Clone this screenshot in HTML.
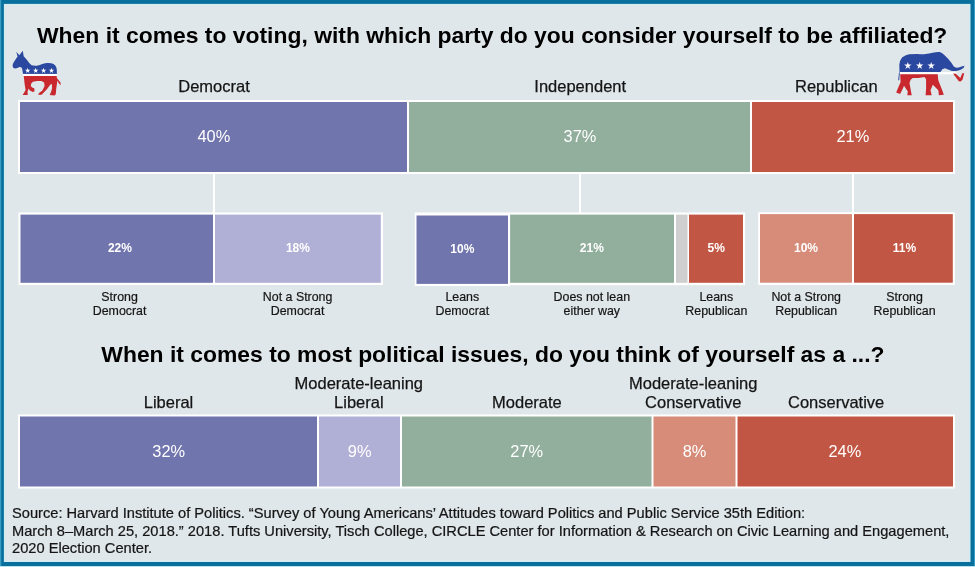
<!DOCTYPE html>
<html><head><meta charset="utf-8">
<style>
html,body{margin:0;padding:0;}
body{width:975px;height:567px;overflow:hidden;background:#e0e7ea;font-family:"Liberation Sans",sans-serif;}
svg{position:absolute;left:0;top:0;display:block;will-change:transform;}
</style></head><body>
<svg width="975" height="567" viewBox="0 0 975 567" font-family="Liberation Sans, sans-serif">
<rect x="0" y="0" width="975" height="567" fill="#09709e"/>
<rect x="3.9" y="3.9" width="966.6" height="558.1" fill="#cfeef4"/>
<rect x="5" y="5" width="964.4" height="556" fill="#e0e7ea"/>
<rect x="0" y="0" width="1.2" height="567" fill="#3a9ec2"/>
<rect x="974" y="0" width="1" height="567" fill="#3a9ec2"/>
<rect x="0" y="566" width="975" height="1" fill="#b8e2ee"/>
<text class="t" transform="translate(37,43.3) scale(1.041,1)" x="0" y="0" font-size="22" fill="#000" font-weight="bold">When it comes to voting, with which party do you consider yourself to be affiliated?</text>
<text class="t" transform="translate(214,92.3) scale(1.0,1)" x="0" y="0" font-size="16.5" fill="#151515" text-anchor="middle" stroke="#151515" stroke-width="0.25">Democrat</text>
<text class="t" transform="translate(580.2,92.3) scale(1.0,1)" x="0" y="0" font-size="16.5" fill="#151515" text-anchor="middle" stroke="#151515" stroke-width="0.25">Independent</text>
<text class="t" transform="translate(836.3,92.3) scale(1.0,1)" x="0" y="0" font-size="16.5" fill="#151515" text-anchor="middle" stroke="#151515" stroke-width="0.25">Republican</text>
<rect x="18" y="100" width="937" height="74" fill="#fff"/>
<rect x="20" y="102" width="387" height="70" fill="#7175ad"/>
<rect x="409" y="102" width="341" height="70" fill="#92ae9c"/>
<rect x="752" y="102" width="201" height="70" fill="#c25644"/>
<text class="t" transform="translate(213.8,142) scale(1.0,1)" x="0" y="0" font-size="16.4" fill="#fff" text-anchor="middle">40%</text>
<text class="t" transform="translate(580,142) scale(1.0,1)" x="0" y="0" font-size="16.4" fill="#fff" text-anchor="middle">37%</text>
<text class="t" transform="translate(852.8,142) scale(1.0,1)" x="0" y="0" font-size="16.4" fill="#fff" text-anchor="middle">21%</text>
<rect x="213" y="174" width="2" height="40" fill="#fff"/>
<rect x="579" y="174" width="2" height="40" fill="#fff"/>
<rect x="852" y="174" width="2" height="40" fill="#fff"/>
<rect x="18.5" y="212.5" width="364.5" height="72.5" fill="#fff"/>
<rect x="20.5" y="214.6" width="192.5" height="68.2" fill="#7175ad"/>
<rect x="215" y="214.6" width="165.8" height="68.2" fill="#b0afd5"/>
<rect x="414.9" y="212.5" width="330.1" height="72.7" fill="#fff"/>
<rect x="414.9" y="213.4" width="95.1" height="72.6" fill="#fff"/>
<rect x="416.5" y="215.5" width="91.5" height="68.4" fill="#7175ad"/>
<rect x="510.1" y="214.6" width="163.9" height="68.2" fill="#92ae9c"/>
<rect x="676" y="214.6" width="11.5" height="68.2" fill="#cfcfd0"/>
<rect x="689" y="214.6" width="54" height="68.2" fill="#c25644"/>
<rect x="758.2" y="212.3" width="196.7" height="72.7" fill="#fff"/>
<rect x="760" y="214.1" width="92" height="68.6" fill="#d68c79"/>
<rect x="854" y="214.1" width="98.8" height="68.6" fill="#c25644"/>
<text class="t" transform="translate(119.9,252.2) scale(1.0,1)" x="0" y="0" font-size="12" fill="#fff" text-anchor="middle" font-weight="bold">22%</text>
<text class="t" transform="translate(297.9,252.2) scale(1.0,1)" x="0" y="0" font-size="12" fill="#fff" text-anchor="middle" font-weight="bold">18%</text>
<text class="t" transform="translate(462.3,252.9) scale(1.0,1)" x="0" y="0" font-size="12" fill="#fff" text-anchor="middle" font-weight="bold">10%</text>
<text class="t" transform="translate(591.8,252.2) scale(1.0,1)" x="0" y="0" font-size="12" fill="#fff" text-anchor="middle" font-weight="bold">21%</text>
<text class="t" transform="translate(716.2,252.2) scale(1.0,1)" x="0" y="0" font-size="12" fill="#fff" text-anchor="middle" font-weight="bold">5%</text>
<text class="t" transform="translate(806,252.2) scale(1.0,1)" x="0" y="0" font-size="12" fill="#fff" text-anchor="middle" font-weight="bold">10%</text>
<text class="t" transform="translate(904.5,252.2) scale(1.0,1)" x="0" y="0" font-size="12" fill="#fff" text-anchor="middle" font-weight="bold">11%</text>
<text class="t" transform="translate(119.6,300.6) scale(1.0,1)" x="0" y="0" font-size="12.4" fill="#151515" text-anchor="middle" stroke="#151515" stroke-width="0.2">Strong</text>
<text class="t" transform="translate(119.6,314.9) scale(1.0,1)" x="0" y="0" font-size="12.4" fill="#151515" text-anchor="middle" stroke="#151515" stroke-width="0.2">Democrat</text>
<text class="t" transform="translate(297.6,300.6) scale(1.0,1)" x="0" y="0" font-size="12.4" fill="#151515" text-anchor="middle" stroke="#151515" stroke-width="0.2">Not a Strong</text>
<text class="t" transform="translate(297.6,314.9) scale(1.0,1)" x="0" y="0" font-size="12.4" fill="#151515" text-anchor="middle" stroke="#151515" stroke-width="0.2">Democrat</text>
<text class="t" transform="translate(462.3,300.6) scale(1.0,1)" x="0" y="0" font-size="12.4" fill="#151515" text-anchor="middle" stroke="#151515" stroke-width="0.2">Leans</text>
<text class="t" transform="translate(462.3,314.9) scale(1.0,1)" x="0" y="0" font-size="12.4" fill="#151515" text-anchor="middle" stroke="#151515" stroke-width="0.2">Democrat</text>
<text class="t" transform="translate(591.8,300.6) scale(1.0,1)" x="0" y="0" font-size="12.4" fill="#151515" text-anchor="middle" stroke="#151515" stroke-width="0.2">Does not lean</text>
<text class="t" transform="translate(591.8,314.9) scale(1.0,1)" x="0" y="0" font-size="12.4" fill="#151515" text-anchor="middle" stroke="#151515" stroke-width="0.2">either way</text>
<text class="t" transform="translate(716.3,300.6) scale(1.0,1)" x="0" y="0" font-size="12.4" fill="#151515" text-anchor="middle" stroke="#151515" stroke-width="0.2">Leans</text>
<text class="t" transform="translate(716.3,314.9) scale(1.0,1)" x="0" y="0" font-size="12.4" fill="#151515" text-anchor="middle" stroke="#151515" stroke-width="0.2">Republican</text>
<text class="t" transform="translate(806.2,300.6) scale(1.0,1)" x="0" y="0" font-size="12.4" fill="#151515" text-anchor="middle" stroke="#151515" stroke-width="0.2">Not a Strong</text>
<text class="t" transform="translate(806.2,314.9) scale(1.0,1)" x="0" y="0" font-size="12.4" fill="#151515" text-anchor="middle" stroke="#151515" stroke-width="0.2">Republican</text>
<text class="t" transform="translate(904.6,300.6) scale(1.0,1)" x="0" y="0" font-size="12.4" fill="#151515" text-anchor="middle" stroke="#151515" stroke-width="0.2">Strong</text>
<text class="t" transform="translate(904.6,314.9) scale(1.0,1)" x="0" y="0" font-size="12.4" fill="#151515" text-anchor="middle" stroke="#151515" stroke-width="0.2">Republican</text>
<text class="t" transform="translate(101.3,362.4) scale(1.041,1)" x="0" y="0" font-size="22" fill="#000" font-weight="bold">When it comes to most political issues, do you think of yourself as a ...?</text>
<text class="t" transform="translate(168.5,407.5) scale(1.0,1)" x="0" y="0" font-size="16.5" fill="#151515" text-anchor="middle" stroke="#151515" stroke-width="0.25">Liberal</text>
<text class="t" transform="translate(358.8,388.5) scale(1.0,1)" x="0" y="0" font-size="16.5" fill="#151515" text-anchor="middle" stroke="#151515" stroke-width="0.25">Moderate-leaning</text>
<text class="t" transform="translate(358.8,407.5) scale(1.0,1)" x="0" y="0" font-size="16.5" fill="#151515" text-anchor="middle" stroke="#151515" stroke-width="0.25">Liberal</text>
<text class="t" transform="translate(526.9,407.5) scale(1.0,1)" x="0" y="0" font-size="16.5" fill="#151515" text-anchor="middle" stroke="#151515" stroke-width="0.25">Moderate</text>
<text class="t" transform="translate(693.2,388.5) scale(1.0,1)" x="0" y="0" font-size="16.5" fill="#151515" text-anchor="middle" stroke="#151515" stroke-width="0.25">Moderate-leaning</text>
<text class="t" transform="translate(693.2,407.5) scale(1.0,1)" x="0" y="0" font-size="16.5" fill="#151515" text-anchor="middle" stroke="#151515" stroke-width="0.25">Conservative</text>
<text class="t" transform="translate(836.1,407.5) scale(1.0,1)" x="0" y="0" font-size="16.5" fill="#151515" text-anchor="middle" stroke="#151515" stroke-width="0.25">Conservative</text>
<rect x="18" y="414.5" width="937" height="74" fill="#fff"/>
<rect x="20" y="416.5" width="297" height="70" fill="#7175ad"/>
<rect x="319" y="416.5" width="81" height="70" fill="#b0afd5"/>
<rect x="402" y="416.5" width="249.5" height="70" fill="#92ae9c"/>
<rect x="653.5" y="416.5" width="82" height="70" fill="#d68c79"/>
<rect x="737.5" y="416.5" width="215.5" height="70" fill="#c25644"/>
<text class="t" transform="translate(168.7,456.7) scale(1.0,1)" x="0" y="0" font-size="16.4" fill="#fff" text-anchor="middle">32%</text>
<text class="t" transform="translate(359.7,456.7) scale(1.0,1)" x="0" y="0" font-size="16.4" fill="#fff" text-anchor="middle">9%</text>
<text class="t" transform="translate(526.7,456.7) scale(1.0,1)" x="0" y="0" font-size="16.4" fill="#fff" text-anchor="middle">27%</text>
<text class="t" transform="translate(694.5,456.7) scale(1.0,1)" x="0" y="0" font-size="16.4" fill="#fff" text-anchor="middle">8%</text>
<text class="t" transform="translate(844.9,456.7) scale(1.0,1)" x="0" y="0" font-size="16.4" fill="#fff" text-anchor="middle">24%</text>
<text class="t" transform="translate(12.0,518.1) scale(1.018,1)" x="0" y="0" font-size="14.4" fill="#151515" stroke="#151515" stroke-width="0.22">Source: Harvard Institute of Politics. “Survey of Young Americans’ Attitudes toward Politics and Public Service 35th Edition:</text>
<text class="t" transform="translate(12.0,535.5) scale(1.018,1)" x="0" y="0" font-size="14.4" fill="#151515" stroke="#151515" stroke-width="0.22">March 8–March 25, 2018.” 2018. Tufts University, Tisch College, CIRCLE Center for Information &amp; Research on Civic Learning and Engagement,</text>
<text class="t" transform="translate(12.0,552.8) scale(1.018,1)" x="0" y="0" font-size="14.4" fill="#151515" stroke="#151515" stroke-width="0.22">2020 Election Center.</text>
<path d="M16.2,51.8 L19.3,55.3 L22.8,50.8 L23.7,56.2 Q25.2,57.6 27,60 Q29.2,63.4 31.6,65.3 Q34,66 36.8,65.7 Q40,65.2 42.3,64 Q45,63.2 47.8,63.1 Q51,63 53,63.7 Q55.5,65 56.4,67.5 Q57,69.5 56.9,74 L23,74 L22.2,68.8 Q21.6,66.6 19.5,67 Q17.5,68.3 15.2,68.6 Q13,68.5 12.6,66.2 Q12.4,64 14.2,61.6 Q15.8,59 17.6,56.5 Z" fill="#2a48a0"/>
<rect x="23" y="73.9" width="33.9" height="2.2" fill="#fff"/>
<path d="M23.7,76.1 L56.6,76.1 L57,78.3 L60.5,82.6 L60.7,85.2 L58.8,83.3 L57.5,80.5 L56.8,84.8 L56.2,89.1 L55.8,94.2 L54.5,95.5 L49.7,95.1 L51,92.1 L52.1,88.2 L51.9,83.9 L50.2,84.8 L46.7,89.5 L43.3,93 L41.5,94.7 L38.1,94.7 L39,93 L42.4,90.4 L44.6,86.1 L44.1,82.6 L41.5,81.1 L37.2,80.9 L32.9,81.8 L31.2,83.5 L30.8,86.1 L32.1,87.4 L34.2,88.2 L34.6,91.2 L32.9,92.1 L29.9,90.4 L28.6,88.6 L27.5,92.1 L27.8,95.1 L22.6,95.1 L23.9,93 L25.6,90 L24.7,84.8 L24.1,79.2 Z" fill="#c8282e"/>
<polygon points="27.70,67.80 28.35,69.80 30.46,69.80 28.75,71.04 29.40,73.05 27.70,71.81 26.00,73.05 26.65,71.04 24.94,69.80 27.05,69.80" fill="#fff"/>
<polygon points="35.70,67.80 36.35,69.80 38.46,69.80 36.75,71.04 37.40,73.05 35.70,71.81 34.00,73.05 34.65,71.04 32.94,69.80 35.05,69.80" fill="#fff"/>
<polygon points="43.60,67.80 44.25,69.80 46.36,69.80 44.65,71.04 45.30,73.05 43.60,71.81 41.90,73.05 42.55,71.04 40.84,69.80 42.95,69.80" fill="#fff"/>
<polygon points="51.50,67.80 52.15,69.80 54.26,69.80 52.55,71.04 53.20,73.05 51.50,71.81 49.80,73.05 50.45,71.04 48.74,69.80 50.85,69.80" fill="#fff"/>
<path d="M899.5,72.2 L899.3,65 Q899.5,60.5 902,57.5 Q905,55 909,54.3 L917,53.9 Q921,54.2 924,54.3 Q929,53.5 934,52.4 Q937,51.8 939.8,52.1 Q942.5,53 944.3,55 L948.1,58.8 L951.2,62.6 L953.8,66.4 Q955.5,67.7 957.6,67.7 Q959.5,67.2 961.4,66.4 L964.6,65.8 L963.3,68.3 L960.1,69.9 L956.3,70.9 L951.9,70.9 L948.1,69.6 L944.9,68.3 L942.3,69.3 L940.8,71.5 L940.5,72.2 Z" fill="#2a48a0"/>
<rect x="899.5" y="72.1" width="56.8" height="2.2" fill="#fff"/>
<path d="M900.2,74.2 L937.7,74.2 L938.3,80.3 L942.7,91.4 L943.8,94.7 L938.9,95.3 L938.3,90.3 L932.8,84.7 L930.5,90.3 L931.7,95.3 L925.6,95.3 L926.1,88.6 L926.1,79.2 L924.5,77 L918.4,78.1 L912.8,78.1 L910.6,79.8 L909.5,83.1 L911.2,92.5 L911.7,95.3 L907.3,95.3 L907.8,91.4 L904,85.8 L902.9,88.6 L900.1,94.1 L896.2,92.5 L897.3,89.7 L900.6,82 Z" fill="#c8282e"/>
<path d="M953,73.6 L955.8,73.8 L960.3,78 L962.3,73.2 L964.2,73.2 L962.5,79.8 L960.5,81.5 L958.8,81.2 Z" fill="#c8282e"/>
<path d="M899,72.2 L899.8,72.4 L899.2,80.3 L898.2,80.3 Z" fill="#2a48a0"/>
<polygon points="907.80,61.90 908.68,64.59 911.51,64.59 909.22,66.26 910.09,68.96 907.80,67.29 905.51,68.96 906.38,66.26 904.09,64.59 906.92,64.59" fill="#fff"/>
<polygon points="919.70,61.90 920.58,64.59 923.41,64.59 921.12,66.26 921.99,68.96 919.70,67.29 917.41,68.96 918.28,66.26 915.99,64.59 918.82,64.59" fill="#fff"/>
<polygon points="931.20,61.90 932.08,64.59 934.91,64.59 932.62,66.26 933.49,68.96 931.20,67.29 928.91,68.96 929.78,66.26 927.49,64.59 930.32,64.59" fill="#fff"/>
</svg>
</body></html>
